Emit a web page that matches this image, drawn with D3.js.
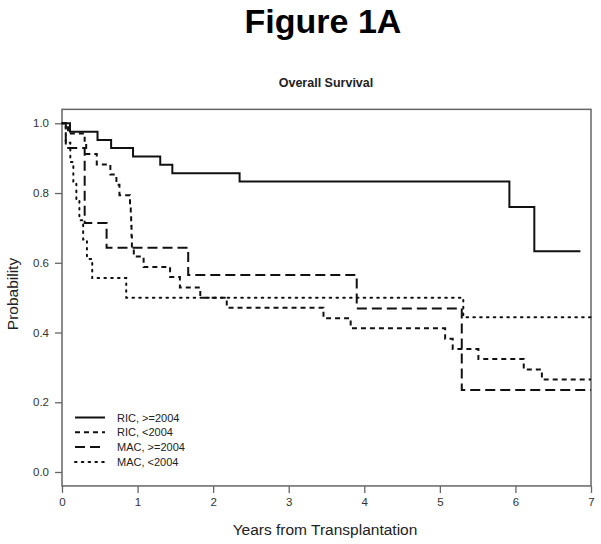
<!DOCTYPE html>
<html>
<head>
<meta charset="utf-8">
<script src="https://cdn.jsdelivr.net/npm/d3@7"></script>
<style>
  html, body { margin: 0; padding: 0; background: #fff; }
  svg { display: block; font-family: "Liberation Sans", Arial, sans-serif; }
</style>
</head>
<body>
<svg id="chart" width="601" height="544"></svg>
<script>
// ---- data ----
const ricNewTimes = [0, 0.106, 0.47, 0.65, 0.94, 1.30, 1.46, 2.35, 5.92, 6.25, 6.86];
const ricNewSurv  = [1.0, 0.976, 0.952, 0.929, 0.905, 0.881, 0.857, 0.833, 0.760, 0.633, 0.633];

const ricOldTimes = [0, 0.08, 0.30, 0.32, 0.46, 0.64, 0.72, 0.76, 0.90, 0.91, 0.915, 0.92, 0.925, 0.95, 1.08, 1.43, 1.56, 1.83, 2.18, 3.46, 3.82, 5.07, 5.17, 5.51, 6.11, 6.35, 7.0];
const ricOldSurv  = [1.0, 0.971, 0.941, 0.912, 0.882, 0.853, 0.824, 0.794, 0.765, 0.735, 0.706, 0.676, 0.647, 0.618, 0.588, 0.559, 0.529, 0.500, 0.471, 0.441, 0.412, 0.382, 0.353, 0.324, 0.294, 0.265, 0.265];

const macNewTimes = [0, 0.05, 0.30, 0.59, 1.67, 3.90, 5.29, 7.0];
const macNewSurv  = [1.0, 0.929, 0.714, 0.643, 0.565, 0.469, 0.235, 0.235];

const macOldTimes = [0, 0.05, 0.11, 0.15, 0.19, 0.23, 0.28, 0.33, 0.40, 0.85, 5.31, 7.0];
const macOldSurv  = [1.0, 0.944, 0.889, 0.833, 0.778, 0.722, 0.667, 0.611, 0.556, 0.500, 0.444, 0.444];

const seriesNames = ["RIC, >=2004", "RIC, <2004", "MAC, >=2004", "MAC, <2004"];
const xTicks = [0, 1, 2, 3, 4, 5, 6, 7];
const yTicks = [0.0, 0.2, 0.4, 0.6, 0.8, 1.0];

// ---- styles ----
const dashes = [null, "5,4", "10,5", "1.6,5.2"];
const caps = ["butt", "butt", "butt", "round"];

const svg = d3.select("#chart");
const x = d3.scaleLinear().domain([0, 7]).range([62, 591]);
const y = d3.scaleLinear().domain([0, 1]).range([472, 123.3]);

// title
svg.append("text").attr("x", 323).attr("y", 33).attr("text-anchor", "middle")
  .attr("font-size", 34).attr("font-weight", "bold").text("Figure 1A");
svg.append("text").attr("x", 326).attr("y", 87).attr("text-anchor", "middle")
  .attr("font-size", 12.5).attr("font-weight", "bold").attr("fill", "#222").text("Overall Survival");

// box
const boxTop = y(1.04), boxBot = y(-0.04);
svg.append("rect").attr("x", x(0)).attr("y", boxTop)
  .attr("width", x(7) - x(0)).attr("height", boxBot - boxTop)
  .attr("fill", "none").attr("stroke", "#666").attr("stroke-width", 1.5);

// axes
const xAxis = d3.axisBottom(x).tickValues(xTicks).tickFormat(d3.format("d")).tickSize(7).tickPadding(5);
const gx = svg.append("g").attr("transform", `translate(0,${boxBot})`).call(xAxis);
const yAxis = d3.axisLeft(y).tickValues(yTicks).tickFormat(d3.format(".1f")).tickSize(7).tickPadding(6);
const gy = svg.append("g").attr("transform", `translate(${x(0)},0)`).call(yAxis);
[gx, gy].forEach(g => {
  g.select(".domain").remove();
  g.selectAll(".tick line").attr("stroke", "#666").attr("stroke-width", 1.3);
  g.selectAll(".tick text").attr("fill", "#333").attr("font-size", 11.5)
    .attr("font-family", "Liberation Sans, Arial, sans-serif");
});

// axis labels
svg.append("text").attr("x", 325).attr("y", 535).attr("text-anchor", "middle")
  .attr("font-size", 15.5).attr("fill", "#222").text("Years from Transplantation");
svg.append("text").attr("transform", "translate(18,294) rotate(-90)").attr("text-anchor", "middle")
  .attr("font-size", 15.5).attr("fill", "#222").text("Probability");

// curves
const seriesData = [
  [ricNewTimes, ricNewSurv],
  [ricOldTimes, ricOldSurv],
  [macNewTimes, macNewSurv],
  [macOldTimes, macOldSurv]
];
const line = d3.line().x(d => x(d[0])).y(d => y(d[1])).curve(d3.curveStepAfter);
seriesData.forEach(([t, s], i) => {
  const pts = t.map((v, k) => [v, s[k]]);
  svg.append("path").datum(pts).attr("d", line)
    .attr("fill", "none").attr("stroke", "#111").attr("stroke-width", 2)
    .attr("stroke-dasharray", dashes[i]).attr("stroke-linecap", caps[i]);
});

// legend
const leg = svg.append("g");
seriesNames.forEach((name, i) => {
  const yy = 417.5 + i * 14.8;
  leg.append("line").attr("x1", 75).attr("x2", 105).attr("y1", yy).attr("y2", yy)
    .attr("stroke", "#111").attr("stroke-width", 2)
    .attr("stroke-dasharray", dashes[i]).attr("stroke-linecap", caps[i]);
  leg.append("text").attr("x", 117).attr("y", yy + 4).attr("font-size", 11)
    .attr("fill", "#222").text(name);
});
</script>
</body>
</html>
